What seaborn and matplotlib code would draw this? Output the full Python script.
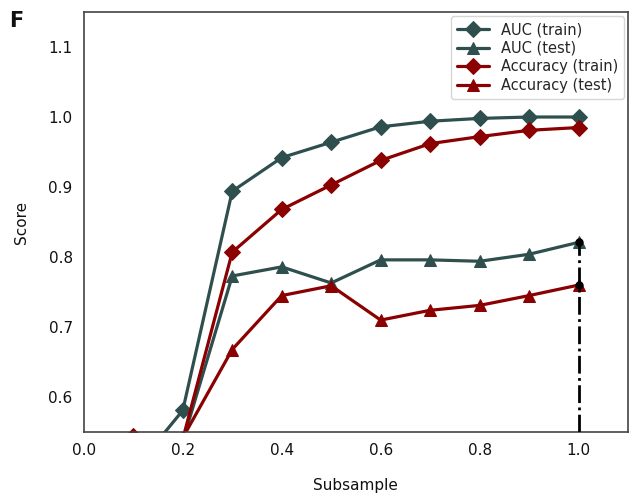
import matplotlib
matplotlib.use('Agg')
import matplotlib.pyplot as plt
import seaborn as sns
import pandas as pd

# Values
subsample = [0.1, 0.2, 0.3, 0.4, 0.5, 0.6, 0.7, 0.8, 0.9, 1.0]
auc_train = [0.495, 0.581, 0.894, 0.942, 0.964, 0.986, 0.994, 0.998, 1.000, 1.000]
auc_test = [0.500, 0.537, 0.773, 0.786, 0.763, 0.796, 0.796, 0.794, 0.804, 0.821]
acc_train = [0.545, 0.540, 0.807, 0.868, 0.903, 0.938, 0.962, 0.972, 0.981, 0.985]
acc_test = [0.520, 0.542, 0.668, 0.745, 0.759, 0.710, 0.724, 0.731, 0.745, 0.760]

series_names = ['AUC (train)', 'AUC (test)', 'Accuracy (train)', 'Accuracy (test)']
series_values = [auc_train, auc_test, acc_train, acc_test]

green = '#2f4f4f'
red = '#8b0000'
colors = [green, green, red, red]
markers = ['D', '^', 'D', '^']

sns.set_style('white')
plt.rcParams['font.family'] = ['DejaVu Sans']

fig = plt.figure(figsize=(6.35, 4.99), dpi=100)
ax = fig.add_axes([0.132, 0.134, 0.857, 0.842])

for name, vals, c, m in zip(series_names, series_values, colors, markers):
    df = pd.DataFrame({'Subsample': subsample, 'Score': vals})
    sns.lineplot(data=df, x='Subsample', y='Score', ax=ax, color=c, marker=m,
                 markersize=8, markeredgecolor=c, linewidth=2.3, label=name)

# Dash-dot marker line at the full sample
ax.vlines(subsample[-1], 0.55, auc_test[-1], colors='black', linestyles='-.', linewidth=2, zorder=5)
ax.scatter([subsample[-1], subsample[-1]], [auc_test[-1], acc_test[-1]], color='black', s=25, zorder=6)

ax.set_xlim(0, 1.1)
ax.set_ylim(0.55, 1.15)
ax.set_xticks([0.0, 0.2, 0.4, 0.6, 0.8, 1.0])
ax.set_yticks([0.6, 0.7, 0.8, 0.9, 1.0, 1.1])
ax.tick_params(direction='in', length=5, width=1, labelsize=11, color='#444444',
               labelcolor='#111111', pad=8)
for s in ax.spines.values():
    s.set_color('#444444')
    s.set_linewidth(1.2)

ax.set_xlabel('Subsample', fontsize=11, labelpad=14, color='#111111')
ax.set_ylabel('Score', fontsize=11, labelpad=14, color='#111111')

ax.legend(loc='upper right', fontsize=10.5, frameon=True, handlelength=2.2,
          borderpad=0.4, labelspacing=0.25, markerscale=1.0, borderaxespad=0.3)

fig.text(0.015, 0.945, 'F', fontsize=15, fontweight='bold', color='#111111')

fig.savefig('out.png', dpi=100)
